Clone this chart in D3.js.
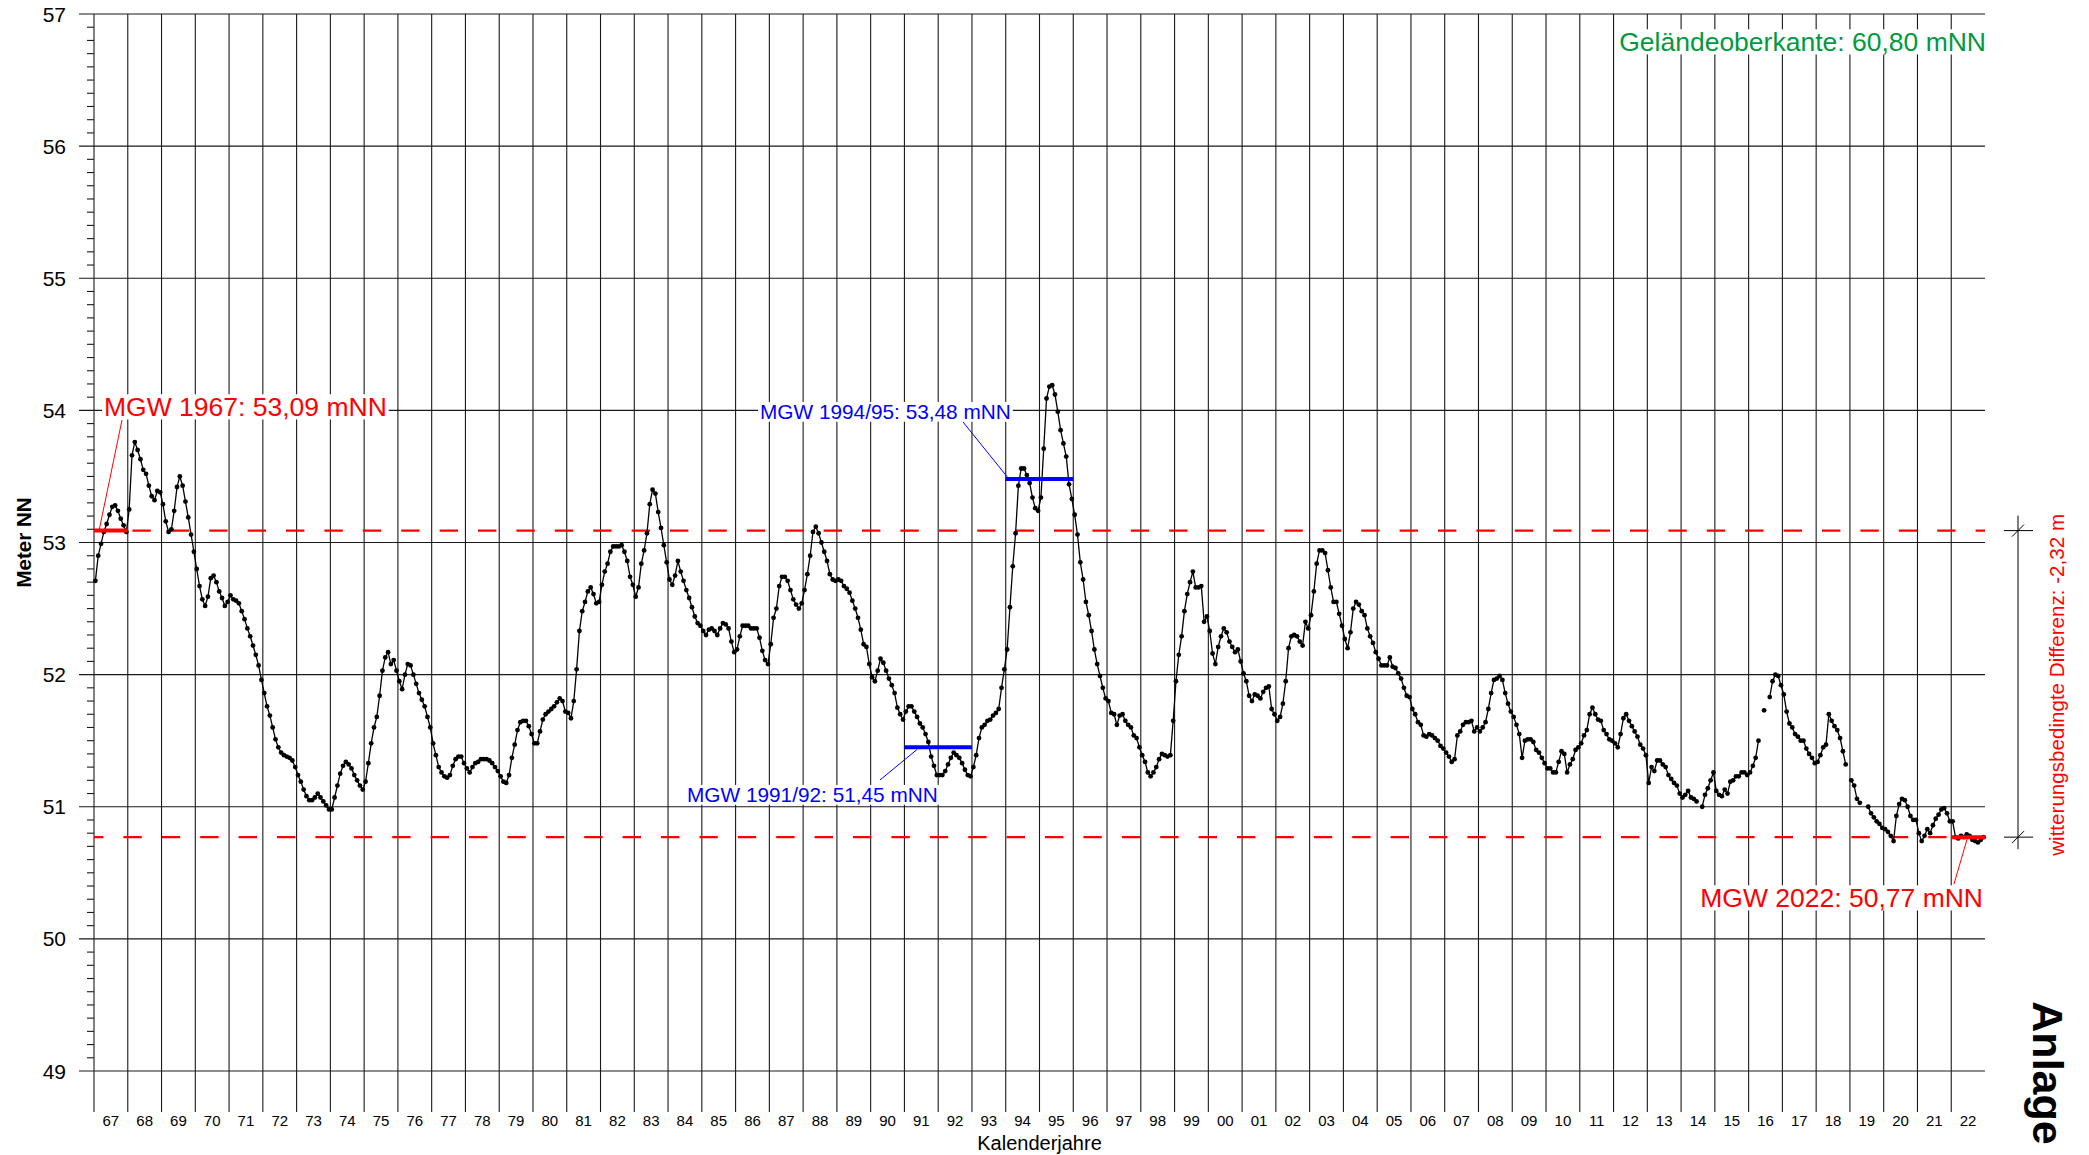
<!DOCTYPE html>
<html>
<head>
<meta charset="utf-8">
<script src="https://cdn.jsdelivr.net/npm/d3@7"></script>
<style>
  html, body { margin: 0; padding: 0; background: #fff; }
  svg { display: block; }
</style>
</head>
<body>
<svg id="chart" width="2089" height="1155"></svg>
<script>
// Groundwater level hydrograph, monthly readings (m NN), January 1967 to December 2022.
const startYear = 1967;
const endYear = 2022;
const yTicks = [49, 50, 51, 52, 53, 54, 55, 56, 57];

// null = no reading that month (line is broken there)
const levels = [
  /* 1967 */ 52.71, 52.90, 52.99, 53.08, 53.14, 53.21, 53.27, 53.28, 53.24, 53.18, 53.13, 53.08,
  /* 1968 */ 53.25, 53.66, 53.76, 53.70, 53.63, 53.55, 53.52, 53.43, 53.35, 53.32, 53.39, 53.38,
  /* 1969 */ 53.29, 53.16, 53.08, 53.10, 53.24, 53.42, 53.50, 53.43, 53.31, 53.19, 53.06, 52.93,
  /* 1970 */ 52.80, 52.67, 52.57, 52.52, 52.59, 52.73, 52.75, 52.70, 52.63, 52.58, 52.52, 52.55,
  /* 1971 */ 52.60, 52.57, 52.56, 52.54, 52.48, 52.42, 52.35, 52.29, 52.22, 52.15, 52.07, 51.96,
  /* 1972 */ 51.86, 51.76, 51.69, 51.60, 51.51, 51.45, 51.41, 51.39, 51.38, 51.37, 51.35, 51.30,
  /* 1973 */ 51.24, 51.19, 51.13, 51.08, 51.05, 51.05, 51.07, 51.10, 51.07, 51.04, 51.01, 50.98,
  /* 1974 */ 50.98, 51.07, 51.16, 51.25, 51.31, 51.34, 51.32, 51.29, 51.24, 51.20, 51.16, 51.13,
  /* 1975 */ 51.19, 51.33, 51.48, 51.60, 51.68, 51.84, 52.03, 52.13, 52.17, 52.08, 52.11, 52.03,
  /* 1976 */ 51.95, 51.89, 52.00, 52.08, 52.07, 52.00, 51.93, 51.86, 51.81, 51.76, 51.68, 51.60,
  /* 1977 */ 51.48, 51.39, 51.30, 51.26, 51.23, 51.22, 51.24, 51.31, 51.36, 51.38, 51.38, 51.33,
  /* 1978 */ 51.29, 51.26, 51.30, 51.33, 51.34, 51.36, 51.36, 51.36, 51.35, 51.33, 51.30, 51.27,
  /* 1979 */ 51.23, 51.19, 51.18, 51.24, 51.37, 51.47, 51.58, 51.64, 51.65, 51.65, 51.61, 51.55,
  /* 1980 */ 51.48, 51.48, 51.57, 51.66, 51.70, 51.72, 51.74, 51.76, 51.79, 51.82, 51.80, 51.72,
  /* 1981 */ 51.71, 51.67, 51.80, 52.04, 52.33, 52.48, 52.55, 52.63, 52.66, 52.61, 52.54, 52.55,
  /* 1982 */ 52.68, 52.78, 52.84, 52.93, 52.97, 52.97, 52.97, 52.98, 52.93, 52.86, 52.74, 52.68,
  /* 1983 */ 52.59, 52.66, 52.84, 52.94, 53.07, 53.29, 53.40, 53.37, 53.23, 53.11, 52.98, 52.85,
  /* 1984 */ 52.72, 52.68, 52.75, 52.86, 52.78, 52.71, 52.64, 52.58, 52.51, 52.44, 52.39, 52.37,
  /* 1985 */ 52.33, 52.30, 52.34, 52.35, 52.33, 52.30, 52.35, 52.39, 52.38, 52.35, 52.25, 52.17,
  /* 1986 */ 52.19, 52.29, 52.37, 52.37, 52.37, 52.35, 52.35, 52.35, 52.28, 52.18, 52.11, 52.08,
  /* 1987 */ 52.23, 52.43, 52.50, 52.67, 52.74, 52.74, 52.71, 52.64, 52.57, 52.53, 52.50, 52.54,
  /* 1988 */ 52.64, 52.76, 52.90, 53.08, 53.12, 53.07, 53.00, 52.93, 52.86, 52.76, 52.72, 52.71,
  /* 1989 */ 52.72, 52.71, 52.67, 52.65, 52.62, 52.56, 52.50, 52.43, 52.34, 52.23, 52.21, 52.08,
  /* 1990 */ 51.98, 51.95, 52.03, 52.12, 52.09, 52.03, 51.97, 51.92, 51.86, 51.75, 51.70, 51.66,
  /* 1991 */ 51.72, 51.76, 51.76, 51.72, 51.68, 51.63, 51.60, 51.55, 51.49, 51.38, 51.31, 51.24,
  /* 1992 */ 51.24, 51.24, 51.27, 51.32, 51.37, 51.41, 51.39, 51.37, 51.33, 51.28, 51.24, 51.23,
  /* 1993 */ 51.30, 51.39, 51.52, 51.60, 51.62, 51.65, 51.66, 51.69, 51.71, 51.74, 51.90, 52.04,
  /* 1994 */ 52.19, 52.51, 52.82, 53.07, 53.43, 53.56, 53.56, 53.51, 53.45, 53.34, 53.26, 53.24,
  /* 1995 */ 53.34, 53.71, 54.09, 54.18, 54.19, 54.12, 53.99, 53.85, 53.75, 53.65, 53.44, 53.33,
  /* 1996 */ 53.21, 53.06, 52.85, 52.72, 52.55, 52.45, 52.33, 52.19, 52.08, 51.99, 51.90, 51.82,
  /* 1997 */ 51.80, 51.71, 51.70, 51.62, 51.69, 51.70, 51.65, 51.62, 51.60, 51.54, 51.52, 51.45,
  /* 1998 */ 51.39, 51.34, 51.26, 51.23, 51.26, 51.30, 51.36, 51.40, 51.39, 51.38, 51.39, 51.65,
  /* 1999 */ 51.95, 52.15, 52.29, 52.48, 52.61, 52.70, 52.78, 52.66, 52.66, 52.67, 52.40, 52.44,
  /* 2000 */ 52.33, 52.16, 52.08, 52.21, 52.29, 52.35, 52.32, 52.25, 52.21, 52.17, 52.19, 52.10,
  /* 2001 */ 52.01, 51.95, 51.84, 51.80, 51.85, 51.84, 51.82, 51.87, 51.90, 51.91, 51.74, 51.70,
  /* 2002 */ 51.65, 51.68, 51.78, 51.95, 52.20, 52.29, 52.30, 52.29, 52.25, 52.22, 52.40, 52.35,
  /* 2003 */ 52.45, 52.63, 52.84, 52.94, 52.94, 52.92, 52.79, 52.66, 52.55, 52.55, 52.46, 52.37,
  /* 2004 */ 52.27, 52.20, 52.32, 52.50, 52.55, 52.53, 52.48, 52.45, 52.35, 52.29, 52.24, 52.17,
  /* 2005 */ 52.12, 52.07, 52.07, 52.07, 52.13, 52.06, 52.05, 52.01, 51.97, 51.90, 51.84, 51.83,
  /* 2006 */ 51.74, 51.70, 51.64, 51.62, 51.54, 51.53, 51.55, 51.54, 51.52, 51.50, 51.46, 51.44,
  /* 2007 */ 51.41, 51.38, 51.34, 51.36, 51.54, 51.57, 51.62, 51.64, 51.64, 51.65, 51.57, 51.60,
  /* 2008 */ 51.57, 51.60, 51.64, 51.74, 51.86, 51.96, 51.97, 51.99, 51.96, 51.86, 51.78, 51.72,
  /* 2009 */ 51.68, 51.62, 51.55, 51.37, 51.50, 51.51, 51.51, 51.49, 51.43, 51.41, 51.37, 51.33,
  /* 2010 */ 51.29, 51.29, 51.26, 51.26, 51.34, 51.42, 51.40, 51.26, 51.32, 51.36, 51.43, 51.45,
  /* 2011 */ 51.48, 51.54, 51.58, 51.70, 51.75, 51.70, 51.66, 51.65, 51.58, 51.55, 51.51, 51.50,
  /* 2012 */ 51.48, 51.45, 51.55, 51.67, 51.70, 51.65, 51.61, 51.57, 51.53, 51.47, 51.44, 51.39,
  /* 2013 */ 51.18, 51.30, 51.27, 51.35, 51.35, 51.32, 51.30, 51.24, 51.21, 51.18, 51.16, 51.10,
  /* 2014 */ 51.07, 51.09, 51.12, 51.07, 51.06, 51.04, null,  51.00, 51.09, 51.14, 51.20, 51.26,
  /* 2015 */ 51.12, 51.09, 51.08, 51.13, 51.10, 51.19, 51.20, 51.23, 51.23, 51.26, 51.26, 51.24,
  /* 2016 */ 51.26, 51.31, 51.37, 51.50, null,  51.73, null,  51.83, 51.95, 52.00, 51.99, 51.92,
  /* 2017 */ 51.85, 51.72, 51.63, 51.60, 51.55, 51.53, 51.50, 51.50, 51.44, 51.40, 51.37, 51.33,
  /* 2018 */ 51.34, 51.39, 51.45, 51.47, 51.70, 51.65, 51.61, 51.58, 51.52, 51.42, 51.32, null,
  /* 2019 */ 51.20, 51.16, 51.06, 51.03, null,  null,  51.00, 50.95, 50.92, 50.89, 50.87, 50.84,
  /* 2020 */ 50.83, 50.81, 50.78, 50.74, 50.93, 51.02, 51.06, 51.05, 51.00, 50.93, 50.90, 50.90,
  /* 2021 */ 50.80, 50.74, 50.78, 50.83, 50.80, 50.86, 50.91, 50.94, 50.98, 50.99, 50.95, 50.89,
  /* 2022 */ 50.89, 50.77, 50.76, 50.78, 50.77, 50.79, 50.78, 50.75, 50.74, 50.73, 50.75, 50.77
];

// Annual means of the first and last year (red), compared on the right-hand bracket
const referenceYears = [1967, 2022];
const referenceMeans = [53.09, 50.77];

// Two-year means marked in blue
const periodLabels = ["MGW 1991/92", "MGW 1994/95"];
const periodStarts = [1991, 1994];
const periodMeans = [51.45, 53.48];

const groundLevel = 60.80;

// ---------------------------------------------------------------------------
const W = 2089, H = 1155;
const plotLeft = 94, plotRight = 1985, plotTop = 14, plotBottom = 1071;
const FONT = "'Liberation Sans', Arial, Helvetica, sans-serif";

const x = d3.scaleLinear().domain([startYear, endYear + 1]).range([plotLeft, plotRight]);
const y = d3.scaleLinear().domain([49, 57]).range([plotBottom, plotTop]);
// German decimal comma, plain hyphen for negatives
const de = v => d3.format(".2f")(v).replace(".", ",").replace("\u2212", "-");

const svg = d3.select("#chart");
svg.append("rect").attr("width", W).attr("height", H).attr("fill", "#fff");

const grid = svg.append("g").attr("stroke", "#1a1a1a").attr("stroke-width", 1.1);

// horizontal grid at every metre
grid.selectAll("line.h").data(yTicks).join("line")
  .attr("x1", plotLeft - 15).attr("x2", plotRight)
  .attr("y1", d => y(d)).attr("y2", d => y(d));

// vertical grid at every year boundary, running down into the label band
const years = d3.range(startYear, endYear + 1);
grid.selectAll("line.v").data(years).join("line")
  .attr("x1", d => x(d)).attr("x2", d => x(d))
  .attr("y1", plotTop).attr("y2", 1112);

// decimetre ticks on the y axis
const minor = d3.range(490, 571).filter(d => d % 10 !== 0).map(d => d / 10);
grid.selectAll("line.m").data(minor).join("line")
  .attr("x1", plotLeft - 7).attr("x2", plotLeft)
  .attr("y1", d => y(d)).attr("y2", d => y(d));

// y tick labels
svg.append("g").selectAll("text").data(yTicks).join("text")
  .attr("x", 66).attr("y", d => y(d) + 7.5)
  .attr("text-anchor", "end")
  .attr("font-family", FONT).attr("font-size", 21)
  .text(d => d);

// year labels (two digits) centred in each year column
svg.append("g").selectAll("text").data(years).join("text")
  .attr("x", d => x(d + 0.5)).attr("y", 1125.5)
  .attr("text-anchor", "middle")
  .attr("font-family", FONT).attr("font-size", 15)
  .text(d => String(d).slice(2));

svg.append("text")
  .attr("x", (plotLeft + plotRight) / 2).attr("y", 1150)
  .attr("text-anchor", "middle")
  .attr("font-family", FONT).attr("font-size", 20)
  .text("Kalenderjahre");

svg.append("text")
  .attr("transform", `translate(31,${(plotTop + plotBottom) / 2}) rotate(-90)`)
  .attr("text-anchor", "middle")
  .attr("font-family", FONT).attr("font-size", 20.5).attr("font-weight", "bold")
  .text("Meter NN");

// dashed reference levels
const dashOffsets = [0, 9];
referenceMeans.forEach((v, i) => {
  svg.append("line")
    .attr("x1", plotLeft).attr("x2", plotRight)
    .attr("y1", y(v)).attr("y2", y(v))
    .attr("stroke", "#ff0000").attr("stroke-width", 2.4)
    .attr("stroke-dasharray", "18.4,20")
    .attr("stroke-dashoffset", dashOffsets[i]);
});

// hydrograph
const pts = levels.map((v, i) => ({
  t: startYear + Math.floor(i / 12) + ((i % 12) + 0.5) / 12,
  v
}));
svg.append("path")
  .datum(pts)
  .attr("fill", "none").attr("stroke", "#000").attr("stroke-width", 1.3)
  .attr("d", d3.line().defined(d => d.v != null).x(d => x(d.t)).y(d => y(d.v)));
svg.append("g").selectAll("circle").data(pts.filter(d => d.v != null)).join("circle")
  .attr("cx", d => x(d.t)).attr("cy", d => y(d.v)).attr("r", 2.4).attr("fill", "#000");

// annual mean bars (red) and two-year mean bars (blue)
referenceYears.forEach((yr, i) => {
  svg.append("line")
    .attr("x1", x(yr)).attr("x2", x(yr + 1))
    .attr("y1", y(referenceMeans[i])).attr("y2", y(referenceMeans[i]))
    .attr("stroke", "#ff0000").attr("stroke-width", 4);
});
periodStarts.forEach((yr, i) => {
  svg.append("line")
    .attr("x1", x(yr)).attr("x2", x(yr + 2))
    .attr("y1", y(periodMeans[i])).attr("y2", y(periodMeans[i]))
    .attr("stroke", "#0000ff").attr("stroke-width", 4);
});

// text on a white plate that hides the grid behind it
function plateText(str, px, py, anchor, size, color) {
  const g = svg.append("g");
  const t = g.append("text")
    .attr("x", px).attr("y", py)
    .attr("text-anchor", anchor)
    .attr("font-family", FONT).attr("font-size", size)
    .attr("fill", color)
    .text(str);
  const bb = t.node().getBBox();
  g.insert("rect", "text")
    .attr("x", bb.x - 2).attr("width", bb.width + 4)
    .attr("y", py - size * 0.82).attr("height", size * 0.95)
    .attr("fill", "#fff");
  return g;
}

function leader(x1, y1, x2, y2, color) {
  svg.append("line")
    .attr("x1", x1).attr("y1", y1).attr("x2", x2).attr("y2", y2)
    .attr("stroke", color).attr("stroke-width", 1);
}

// first-year mean
plateText(`MGW ${referenceYears[0]}: ${de(referenceMeans[0])} mNN`, 104, 416, "start", 26.5, "#ff0000");
leader(x(referenceYears[0] + 0.15), y(referenceMeans[0]), 122, 420, "#ff0000");

// last-year mean
plateText(`MGW ${referenceYears[1]}: ${de(referenceMeans[1])} mNN`, 1983, 907, "end", 26.5, "#ff0000");
leader(x(referenceYears[1] + 0.47), y(referenceMeans[1]) + 2, 1954, 884, "#ff0000");

// two-year means
plateText(`${periodLabels[1]}: ${de(periodMeans[1])} mNN`, 760, 419, "start", 20.8, "#0000ff");
leader(x(periodStarts[1] + 0.05), y(periodMeans[1]) - 2, 963, 422, "#0000ff");

plateText(`${periodLabels[0]}: ${de(periodMeans[0])} mNN`, 687, 802, "start", 20.8, "#0000ff");
leader(x(periodStarts[0] + 0.38), y(periodMeans[0]) + 2, 880, 780, "#0000ff");

// ground surface
plateText(`Geländeoberkante: ${de(groundLevel)} mNN`, 1986, 51, "end", 26.5, "#009a3e");

// bracket for the weather-related difference between the two annual means
const bx = 2018;
const yTop = y(referenceMeans[0]), yBot = y(referenceMeans[1]);
const br = svg.append("g").attr("stroke", "#000").attr("stroke-width", 1);
br.append("line").attr("x1", bx).attr("x2", bx).attr("y1", yTop - 15).attr("y2", yBot + 12);
[yTop, yBot].forEach(yy => {
  br.append("line").attr("x1", bx - 14).attr("x2", bx + 15).attr("y1", yy).attr("y2", yy);
  br.append("line").attr("x1", bx - 6).attr("x2", bx + 6).attr("y1", yy + 6).attr("y2", yy - 6);
});
svg.append("text")
  .attr("transform", `translate(2064,${(yTop + yBot) / 2 + 1}) rotate(-90)`)
  .attr("text-anchor", "middle")
  .attr("font-family", FONT).attr("font-size", 20.6)
  .attr("fill", "#ff0000")
  .text(`witterungsbedingte Differenz: ${de(referenceMeans[1] - referenceMeans[0])} m`);

svg.append("text")
  .attr("transform", "translate(2033,1073) rotate(90)")
  .attr("text-anchor", "middle")
  .attr("font-family", FONT).attr("font-size", 43).attr("font-weight", "bold")
  .text("Anlage");
</script>
</body>
</html>
